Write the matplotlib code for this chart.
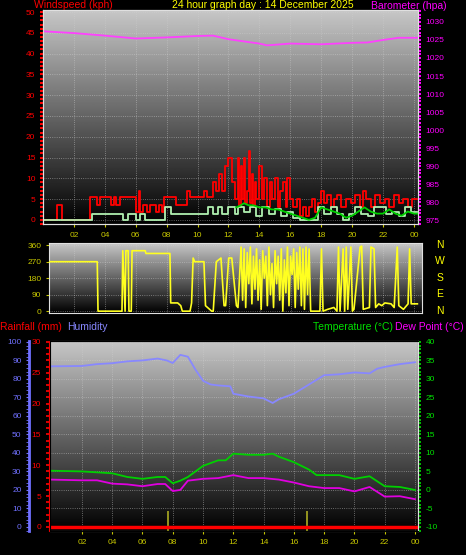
import matplotlib
matplotlib.use('Agg')
import matplotlib.pyplot as plt
import numpy as np
from matplotlib.ticker import MultipleLocator

# ---- data ----
hour_ticks = list(range(2, 25, 2))
hour_labels = ['%02d' % (h % 24) for h in hour_ticks]

gust_t = [0, 0.9, 0.91, 1.2, 1.21, 3.0, 3.05, 3.4, 3.5, 3.7, 3.8, 4.3, 4.4, 4.6, 4.7, 5.0, 5.1, 5.9, 6.0, 6.2, 6.3, 6.5, 6.7, 6.9, 7.1, 7.3, 7.5, 7.7, 7.8, 8.5, 8.6, 9.2, 9.3, 9.5, 10.3, 10.4, 10.6, 11.0, 11.2, 11.4, 11.6, 11.8, 12.0, 12.2, 12.4, 12.6, 12.7, 12.8, 12.9, 13.0, 13.1, 13.2, 13.3, 13.4, 13.5, 13.6, 13.7, 13.8, 14.0, 14.2, 14.3, 14.5, 14.7, 14.8, 15.0, 15.2, 15.3, 15.5, 15.7, 15.8, 16.0, 16.2, 16.4, 16.6, 16.8, 17.0, 17.2, 17.4, 17.6, 17.8, 18.0, 18.2, 18.4, 18.6, 18.8, 19.0, 19.3, 19.6, 19.9, 20.2, 20.5, 20.7, 20.9, 21.2, 21.5, 21.8, 22.1, 22.4, 22.7, 23.0, 23.3, 23.6, 23.9, 24.2]
gust_v = [0, 0, 3.5, 3.5, 0, 0, 5.5, 5.5, 3.5, 5.5, 5.5, 5.5, 3.5, 5.5, 3.5, 5.5, 5.5, 5.5, 2, 7, 2, 3.5, 2, 3.5, 3.5, 2, 3.5, 2, 5.5, 5.5, 3.5, 3.5, 7, 5.5, 5.5, 7, 5.5, 9, 7, 11, 7, 13, 15, 9, 5, 15, 3, 13, 5, 15, 4, 7, 16.5, 4, 11, 3, 9, 5, 13, 5, 10, 3, 9, 5, 10, 3, 7, 9, 3, 10, 5, 3, 5, 1, 3, 1, 3, 5, 2, 4, 7, 4, 6, 3, 5, 6, 3, 5, 4, 6, 3, 7, 5, 3, 6, 4, 5, 3, 6, 4, 5, 3, 5, 5]
wind_t = [0, 3.2, 5.2, 5.5, 6.0, 6.3, 6.6, 7.8, 7.9, 8.3, 10.5, 10.7, 11.0, 11.3, 11.6, 12.0, 12.4, 12.6, 13.0, 13.4, 13.8, 14.2, 14.6, 15.0, 15.4, 15.8, 16.2, 16.6, 17.5, 17.8, 18.2, 18.6, 19.0, 19.4, 19.8, 20.2, 20.6, 21.0, 21.4, 21.8, 22.2, 22.6, 23.0, 23.4, 23.8, 24.2]
wind_v = [0, 1.5, 0, 1.5, 0, 1.5, 0, 0, 3, 1.5, 1.5, 3, 1.5, 3, 1.5, 3, 1.5, 3, 2, 3, 1, 3, 1.5, 2.5, 1, 2, 0.5, 0, 0, 3, 1.5, 3, 1.5, 0, 1.5, 3, 1.5, 1, 3, 3, 1.5, 2, 1, 3, 2, 2]
avg_t = [12.5, 12.8, 13.0, 13.3, 13.6, 14.0, 14.4, 14.8, 15.2, 15.6, 16.0, 16.4, 16.8, 17.2, 17.6, 18.0, 18.4, 18.8, 19.2, 19.6, 20.0, 20.4, 20.8, 21.2, 21.6, 22.0, 22.4, 22.8, 23.2, 23.6, 24.0, 24.2]
avg_v = [3, 3.5, 4, 3.5, 3.5, 3, 3, 2.5, 2.5, 2, 1.5, 1, 0.5, 0, 0.5, 3, 2.5, 2, 1.5, 0.5, 1, 2, 3, 2, 1.5, 1.5, 2.5, 1.5, 1, 2, 1.5, 1.5]
baro_t = [0, 2, 4, 6, 8, 10, 11, 12, 13, 14, 14.5, 16, 18, 20, 21, 22, 23, 24.2]
baro_v = [1027.4, 1026.9, 1026.2, 1025.4, 1025.7, 1026.1, 1026.2, 1025.2, 1024.6, 1024.0, 1023.5, 1024.0, 1023.8, 1024.2, 1024.3, 1025.0, 1025.6, 1025.6]

dir_t = [0.4, 3.5, 3.55, 5.1, 5.15, 5.3, 5.35, 5.5, 5.55, 5.7, 5.75, 6.6, 6.65, 8.2, 8.25, 8.7, 8.9, 9.0, 9.5, 9.6, 9.7, 9.8, 10.4, 10.5, 10.9, 11.0, 11.2, 11.5, 11.7, 11.8, 12.0, 12.2, 12.5, 12.6, 12.8, 12.9, 13.0, 13.1, 13.2, 13.3, 13.4, 13.5, 13.6, 13.7, 13.8, 13.9, 14.0, 14.1, 14.2, 14.3, 14.4, 14.5, 14.6, 14.7, 14.8, 14.9, 15.0, 15.1, 15.2, 15.3, 15.4, 15.5, 15.6, 15.7, 15.8, 15.9, 16.0, 16.1, 16.2, 16.3, 16.4, 16.5, 16.6, 16.7, 16.8, 16.9, 17.0, 17.1, 17.2, 17.3, 17.9, 18.0, 18.1, 18.4, 18.8, 19.0, 19.1, 19.2, 19.4, 19.5, 19.6, 19.7, 19.9, 20.0, 20.1, 20.5, 20.6, 20.7, 21.1, 21.2, 21.4, 21.5, 21.7, 21.9, 22.1, 22.5, 22.7, 22.9, 23.0, 23.3, 23.6, 23.7, 23.8, 24.2]
dir_v = [270, 270, 0, 0, 330, 0, 330, 330, 0, 0, 330, 330, 315, 315, 45, 45, 30, 0, 0, 45, 290, 270, 270, 30, 0, 0, 270, 290, 30, 30, 290, 290, 30, 20, 350, 60, 340, 20, 320, 150, 350, 40, 300, 120, 340, 60, 280, 10, 330, 180, 300, 30, 350, 90, 260, 20, 330, 150, 300, 60, 340, 0, 280, 100, 350, 30, 300, 200, 340, 20, 320, 120, 350, 30, 340, 10, 350, 90, 340, 0, 0, 340, 0, 10, 20, 0, 350, 0, 340, 0, 350, 10, 350, 0, 10, 350, 355, 10, 20, 350, 340, 20, 40, 30, 45, 40, 20, 350, 30, 10, 40, 340, 40, 40]

hum_t = [-0.1, 2, 3, 4, 5, 6, 7, 7.6, 8.0, 8.5, 9, 9.5, 10, 10.5, 11, 11.8, 12, 13, 14, 14.6, 15, 16, 17, 17.8, 18, 19, 20, 21, 21.5, 22, 23, 24]
hum_v = [86.8, 87, 88, 88.5, 89.5, 90, 91, 90, 88.6, 93, 92, 85, 79, 77, 76.5, 76, 72, 70.5, 69.5, 67, 69, 72, 77, 81, 82, 82.5, 83.5, 83, 85.5, 86.5, 88, 89]
temp_t = [-0.1, 2, 4, 5, 6, 7, 7.5, 8, 8.5, 9, 9.5, 10, 11, 11.5, 12, 13, 14, 14.6, 15, 16, 17, 17.5, 18, 19, 20, 21, 22, 23, 24]
temp_v = [5.2, 5, 4.5, 3.5, 3, 3.5, 3.5, 1.8, 2.5, 3.5, 5, 6.5, 8, 8, 9.8, 9.5, 9.5, 9.8, 9, 7.5, 5.5, 4, 4, 4, 3, 3.7, 1, 0.8, 0]
dew_t = [-0.1, 2, 3, 4, 5, 6, 7, 7.5, 8, 8.5, 9, 10, 11, 12, 13, 14, 15, 16, 17, 18, 19, 20, 21, 22, 23, 24]
dew_v = [2.8, 2.6, 2.6, 1.7, 1.5, 1, 1.6, 1.6, -0.3, 0, 2.5, 3, 3.2, 4, 3.2, 3.2, 2.8, 2, 1, 0.5, 0.5, -0.4, 0.8, -1.8, -1.7, -2.5]
rain_t = [-0.1, 24.2]
rain_v = [0, 0]
marker_hours = [7.7, 16.9]

# ---- drawing ----
W, H = 466, 555
plt.rcParams['font.family'] = 'Liberation Sans'
plt.rcParams['axes.unicode_minus'] = False
fig = plt.figure(figsize=(W / 100, H / 100), dpi=100, facecolor='black')
FS = 6
TFS = 7.5
TICKC = '#c8c800'


def background(ax):
    ax.set_facecolor('black')
    grad = np.linspace(0.78, 0.0, 256).reshape(-1, 1)
    ax.imshow(grad, cmap='gray', vmin=0, vmax=1, extent=(0, 1, 0, 1),
              transform=ax.transAxes, aspect='auto', zorder=0)
    ax.grid(True, color='#d0d0d0', ls=':', lw=0.6, alpha=0.6)
    for s in ax.spines.values():
        s.set_color('#e0e0e0')


# top: wind + baro
ax1 = fig.add_axes([43 / W, 1 - 224 / H, 375 / W, 214 / H])
background(ax1)
ax1.step(gust_t, gust_v, where='post', color='#ff0000', lw=1.3, zorder=3)
ax1.step(wind_t, wind_v, where='post', color='#b0f0b0', lw=1.3, zorder=4)
ax1.plot(avg_t, avg_v, color='#00d000', lw=1.3, zorder=5)
ax1.set_xlim(0, 24.26)
ax1.set_ylim(-1, 50.5)
ax1.set_xticks(hour_ticks)
ax1.set_xticklabels(hour_labels)
ax1.set_yticks(range(0, 51, 5))
ax1.yaxis.set_minor_locator(MultipleLocator(1))
ax1.tick_params(axis='x', colors=TICKC, labelsize=FS, length=2)
ax1.tick_params(axis='y', which='both', colors='#ff0000', labelsize=FS, length=2, width=1.5)
ax1b = ax1.twinx()
ax1b.plot(baro_t, baro_v, color='#ff40ff', lw=1.3)
ax1b.set_ylim(974, 1033.3)
ax1b.set_yticks(range(975, 1031, 5))
ax1b.yaxis.set_minor_locator(MultipleLocator(1))
ax1b.tick_params(axis='y', which='both', colors='#ff00ff', labelsize=FS, length=2, width=1.5)
for s in ax1b.spines.values():
    s.set_color('#e0e0e0')

fig.text(34 / W, 1 - 5 / H, 'Windspeed (kph)', color='#ff0000', fontsize=TFS, va='center')
fig.text(172 / W, 1 - 5 / H, '24 hour graph day : 14 December 2025', color='#ffff00', fontsize=TFS, va='center')
fig.text(371 / W, 1 - 6 / H, 'Barometer (hpa)', color='#ff00ff', fontsize=TFS, va='center')

# middle: direction
ax2 = fig.add_axes([49 / W, 1 - 313 / H, 373 / W, 70 / H])
background(ax2)
ax2.plot(dir_t, dir_v, color='#ffff20', lw=1.2, zorder=3)
ax2.set_xlim(0.38, 24.5)
ax2.set_ylim(-10, 372)
ax2.set_xticks(hour_ticks)
ax2.set_xticklabels([])
ax2.tick_params(axis='x', length=0)
ax2.set_yticks(range(0, 361, 90))
ax2.tick_params(axis='y', colors=TICKC, labelsize=FS, length=2)
for lab, yy in zip(['N', 'W', 'S', 'E', 'N'], [245, 261, 278, 294, 311]):
    fig.text(440 / W, 1 - yy / H, lab, color='#ffff00', fontsize=TFS, ha='center', va='center')

fig.text(0, 1 - 327 / H, 'Rainfall (mm)', color='#ff0000', fontsize=TFS, va='center')
fig.text(67 / W, 1 - 327 / H, 'Humidity', color='#8888ff', fontsize=TFS, va='center')
fig.text(313 / W, 1 - 327 / H, 'Temperature (°C)', color='#00e000', fontsize=TFS, va='center')
fig.text(395 / W, 1 - 327 / H, 'Dew Point (°C)', color='#ff00ff', fontsize=TFS, va='center')

# bottom: humidity, rain, temperature
ax3 = fig.add_axes([50 / W, 1 - 531 / H, 368 / W, 190 / H])
background(ax3)
ax3.plot(hum_t, hum_v, color='#8888ff', lw=1.3, zorder=3)
ax3.vlines(marker_hours, -2.2, 8.5, color='#a0a020', lw=1.3, zorder=3)
ax3.set_xlim(-0.11, 24.2)
ax3.set_ylim(-2.2, 100.5)
ax3.set_xticks(hour_ticks)
ax3.set_xticklabels(hour_labels)
ax3.set_yticks(range(0, 101, 10))
ax3.yaxis.set_minor_locator(MultipleLocator(2))
ax3.spines['left'].set_position(('outward', 15))
ax3.spines['left'].set_color('#7070ff')
ax3.spines['left'].set_linewidth(2)
ax3.tick_params(axis='x', colors=TICKC, labelsize=FS, length=2)
ax3.tick_params(axis='y', which='both', colors='#7070ff', labelsize=FS, length=2)

ax3r = ax3.twinx()
ax3r.yaxis.tick_left()
ax3r.spines['left'].set_position(('outward', 1))
ax3r.spines['left'].set_color('#ff0000')
ax3r.plot(rain_t, rain_v, color='#ff0000', lw=2.5, zorder=5)
ax3r.set_ylim(-0.66, 30.15)
ax3r.set_yticks(range(0, 31, 5))
ax3r.yaxis.set_minor_locator(MultipleLocator(1))
ax3r.tick_params(axis='y', which='both', colors='#ff0000', labelsize=FS, length=2, width=1.2)
ax3r.set_xlim(-0.11, 24.2)

ax3t = ax3.twinx()
ax3t.plot(temp_t, temp_v, color='#00d000', lw=1.3)
ax3t.plot(dew_t, dew_v, color='#e000e0', lw=1.3)
ax3t.set_ylim(-11.1, 40.25)
ax3t.set_yticks(range(-10, 41, 5))
ax3t.yaxis.set_minor_locator(MultipleLocator(1))
ax3t.tick_params(axis='y', which='both', colors='#00e000', labelsize=FS, length=2, width=1.2)
ax3t.spines['right'].set_color('#e0e0e0')
ax3t.set_xlim(-0.11, 24.2)

fig.savefig('out.png', dpi=100, facecolor='black')
